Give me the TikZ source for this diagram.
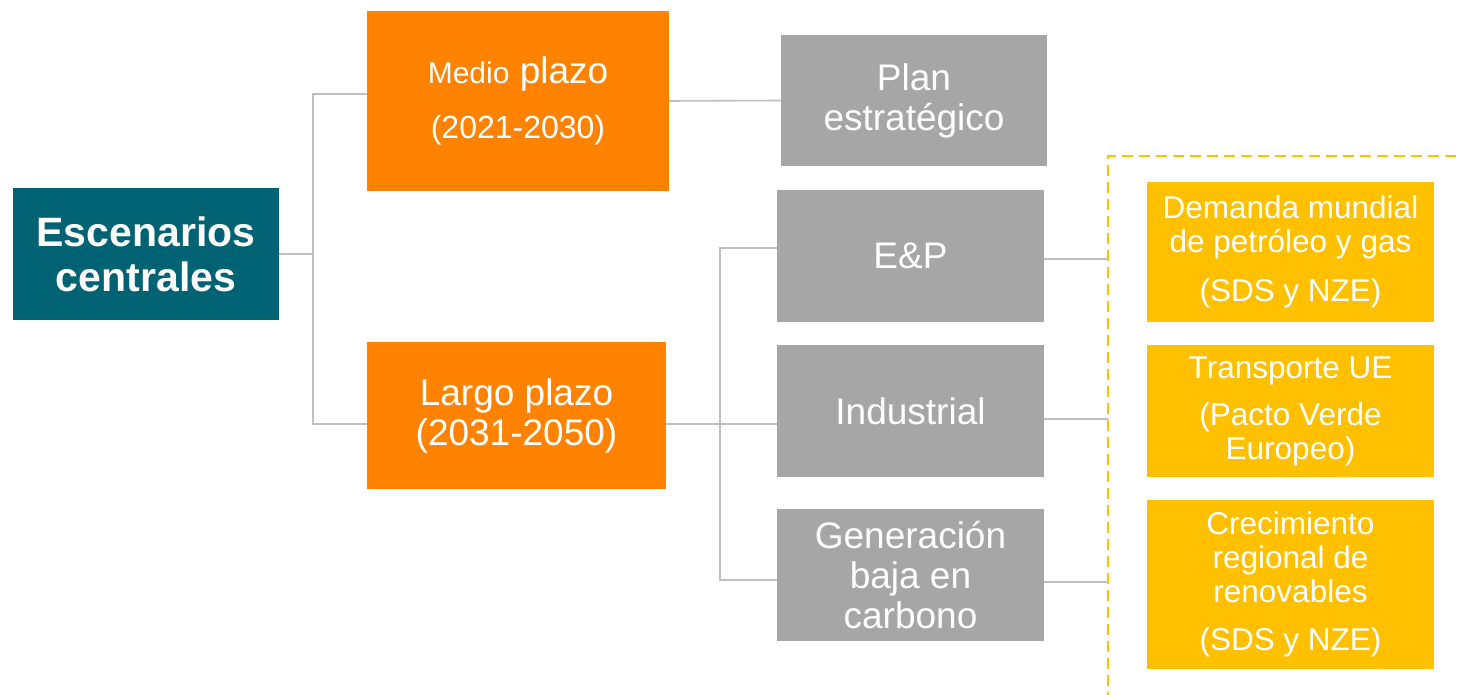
\documentclass[tikz,border=0pt]{standalone}
\usepackage{fontspec}
\setmainfont{Liberation Sans}
\usetikzlibrary{calc}
\definecolor{teal}{RGB}{0,99,116}
\definecolor{orng}{RGB}{255,131,0}
\definecolor{gbox}{RGB}{166,166,166}
\definecolor{ybox}{RGB}{255,192,0}
\definecolor{lgray}{RGB}{191,191,191}
\tikzset{
  box/.style={rectangle, inner sep=0pt, align=center, text=white},
  tealbox/.style={box, fill=teal, font=\bfseries\fontsize{41}{45}\selectfont},
  orbox/.style={box, fill=orng, font=\fontsize{37}{40}\selectfont},
  graybox/.style={box, fill=gbox, font=\fontsize{37}{40}\selectfont},
  yelbox/.style={box, fill=ybox, font=\fontsize{31.5}{34}\selectfont},
  conn/.style={draw=lgray, line width=1.6pt},
  dashbox/.style={draw=ybox, line width=2.6pt, dash pattern=on 11pt off 6pt}
}
\begin{document}
\begin{tikzpicture}[x=1pt,y=-1pt]
\useasboundingbox[fill=white] (0,0) rectangle (1460,695);

% nodes
\node[tealbox, minimum width=266, minimum height=132] (esc) at (146,254) {Escenarios\\centrales};
\node[orbox, minimum width=302, minimum height=180] (medio) at (518,101)
  {{\fontsize{30}{32}\selectfont Medio} plazo\\[15pt]{\fontsize{32}{34}\selectfont (2021-2030)}};
\node[orbox, minimum width=299, minimum height=147] (largo) at (516.5,415.5) {Largo plazo\\(2031-2050)};
\node[graybox, minimum width=266, minimum height=131] (plan) at (914,100.5) {Plan\\estratégico};
\node[graybox, minimum width=267, minimum height=132] (ep) at (910.5,256) {E\&P};
\node[graybox, minimum width=267, minimum height=132] (ind) at (910.5,411) {Industrial};
\node[graybox, minimum width=267, minimum height=132] (gen) at (910.5,575) {Generación\\baja en\\carbono};
\node[yelbox, minimum width=287, minimum height=140] (y1) at (1290.5,252)
  {Demanda mundial\\de petróleo y gas\\[15pt](SDS y NZE)};
\node[yelbox, minimum width=287, minimum height=132] (y2) at (1290.5,411)
  {Transporte UE\\[13pt](Pacto Verde\\Europeo)};
\node[yelbox, minimum width=287, minimum height=169] (y3) at (1290.5,584.5)
  {Crecimiento\\regional de\\renovables\\[14pt](SDS y NZE)};

% dashed frame
\coordinate (dtop) at (1108,156);
\draw[dashbox] (1108,720) -- (dtop) -- (1475,156);

% connectors
\coordinate (j1) at (313,254);
\draw[conn] (esc.east) -- (j1);
\draw[conn] (medio.west |- 0,94) -- (313,94) -- (313,424) -- (largo.west |- 0,424);
\draw[conn] (medio.east) -- (plan.west);
\draw[conn] (largo.east |- 0,424) -- (ind.west |- 0,424);
\draw[conn] (ep.west |- 0,248) -- (720,248) -- (720,580) -- (gen.west |- 0,580);
\draw[conn] (ep.east |- 0,259) -- (dtop |- 0,259);
\draw[conn] (ind.east |- 0,419) -- (dtop |- 0,419);
\draw[conn] (gen.east |- 0,582) -- (dtop |- 0,582);
\end{tikzpicture}
\end{document}
